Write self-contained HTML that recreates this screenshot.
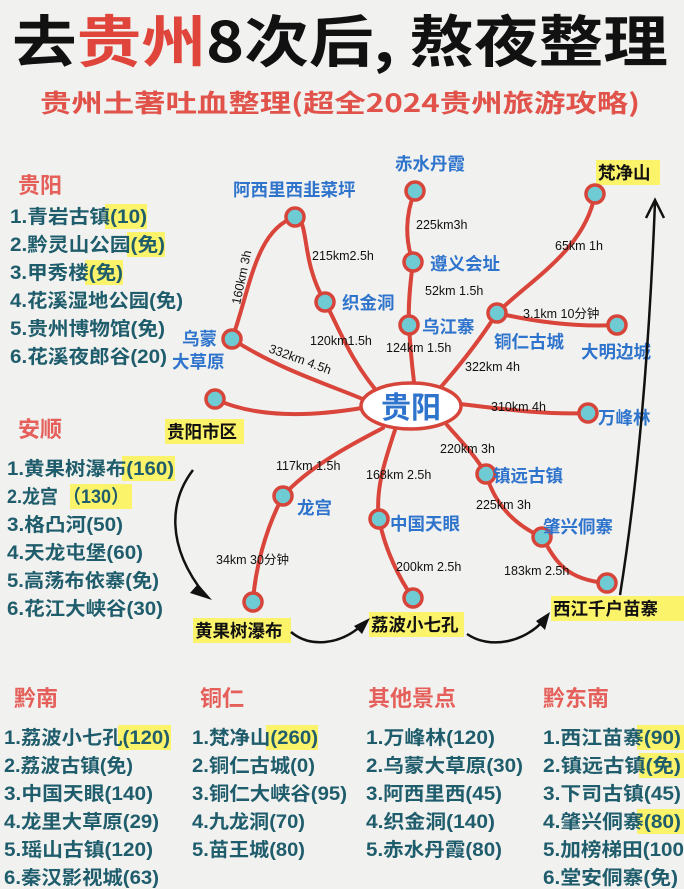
<!DOCTYPE html>
<html><head><meta charset="utf-8"><style>
html,body{margin:0;padding:0;background:#f1f1ef}
svg{display:block}
text{font-family:"Liberation Sans","Noto Sans CJK SC",sans-serif}
.t{font-family:"Noto Sans CJK SC",sans-serif;font-weight:700}
.li{font-family:"Noto Sans CJK SC",sans-serif;font-weight:700;font-size:19px;fill:#1f5d6c}
.hd{font-family:"Noto Sans CJK SC",sans-serif;font-weight:700;font-size:22px;fill:#e5605a}
.pl{font-family:"Noto Sans CJK SC",sans-serif;font-weight:700;font-size:17.5px;fill:#2f74cc}
.yl{font-family:"Noto Sans CJK SC",sans-serif;font-weight:700;font-size:17.5px;fill:#111}
.d{font-size:12.5px;fill:#111}
.r{fill:none;stroke:#d9453b;stroke-width:4;stroke-linecap:round}
.n{fill:#6fcbd3;stroke:#d6443a;stroke-width:3.5}
.a{fill:none;stroke:#111;stroke-width:2.5}
</style></head><body>
<svg width="684" height="889" viewBox="0 0 684 889" xmlns="http://www.w3.org/2000/svg">
<rect width="684" height="889" fill="#f1f1ef"/>
<text class="t" x="12" y="62" font-size="56" font-weight="900" textLength="656" lengthAdjust="spacingAndGlyphs" fill="#111">去<tspan fill="#e0453b">贵州</tspan>8次后, 熬夜整理</text>
<text class="t" x="40" y="112" font-size="25" fill="#e0524a" textLength="600" lengthAdjust="spacingAndGlyphs">贵州土著吐血整理(超全2024贵州旅游攻略)</text>

<g fill="#fbf36a">
<rect x="105" y="204" width="42" height="25"/>
<rect x="127" y="232" width="38" height="25"/>
<rect x="85" y="260" width="38" height="25"/>
<rect x="122" y="456" width="53" height="25"/>
<rect x="70" y="484" width="62" height="25"/>
<rect x="118" y="725" width="53" height="25"/>
<rect x="266" y="725" width="52" height="25"/>
<rect x="637" y="725" width="47" height="25"/>
<rect x="639" y="753" width="45" height="25"/>
<rect x="637" y="809" width="47" height="25"/>
<rect x="165" y="419" width="79" height="25"/>
<rect x="596" y="160" width="64" height="25"/>
<rect x="551" y="596" width="133" height="25"/>
<rect x="193" y="618" width="98" height="25"/>
<rect x="369" y="612" width="95" height="25"/>
</g>

<text class="hd" x="18" y="193">贵阳</text>
<g class="li">
<text x="10" y="223" textLength="137" lengthAdjust="spacingAndGlyphs">1.青岩古镇(10)</text>
<text x="10" y="251" textLength="155" lengthAdjust="spacingAndGlyphs">2.黔灵山公园(免)</text>
<text x="10" y="279" textLength="113" lengthAdjust="spacingAndGlyphs">3.甲秀楼(免)</text>
<text x="10" y="307" textLength="173" lengthAdjust="spacingAndGlyphs">4.花溪湿地公园(免)</text>
<text x="10" y="335" textLength="155" lengthAdjust="spacingAndGlyphs">5.贵州博物馆(免)</text>
<text x="10" y="363" textLength="157" lengthAdjust="spacingAndGlyphs">6.花溪夜郎谷(20)</text>
</g>
<text class="hd" x="18" y="437">安顺</text>
<g class="li">
<text x="7" y="475" textLength="167" lengthAdjust="spacingAndGlyphs">1.黄果树瀑布(160)</text>
<text x="7" y="503" textLength="122" lengthAdjust="spacingAndGlyphs">2.龙宫 （130）</text>
<text x="7" y="531" textLength="116" lengthAdjust="spacingAndGlyphs">3.格凸河(50)</text>
<text x="7" y="559" textLength="136" lengthAdjust="spacingAndGlyphs">4.天龙屯堡(60)</text>
<text x="7" y="587" textLength="152" lengthAdjust="spacingAndGlyphs">5.高荡布依寨(免)</text>
<text x="7" y="615" textLength="156" lengthAdjust="spacingAndGlyphs">6.花江大峡谷(30)</text>
</g>

<text class="hd" x="14" y="706">黔南</text>
<text class="hd" x="200" y="706">铜仁</text>
<text class="hd" x="368" y="706">其他景点</text>
<text class="hd" x="543" y="706">黔东南</text>
<g class="li">
<text x="4" y="744" textLength="166" lengthAdjust="spacingAndGlyphs">1.荔波小七孔(120)</text>
<text x="4" y="772" textLength="129" lengthAdjust="spacingAndGlyphs">2.荔波古镇(免)</text>
<text x="4" y="800" textLength="149" lengthAdjust="spacingAndGlyphs">3.中国天眼(140)</text>
<text x="4" y="828" textLength="155" lengthAdjust="spacingAndGlyphs">4.龙里大草原(29)</text>
<text x="4" y="856" textLength="149" lengthAdjust="spacingAndGlyphs">5.瑶山古镇(120)</text>
<text x="4" y="884" textLength="155" lengthAdjust="spacingAndGlyphs">6.秦汉影视城(63)</text>
<text x="192" y="744" textLength="126" lengthAdjust="spacingAndGlyphs">1.梵净山(260)</text>
<text x="192" y="772" textLength="123" lengthAdjust="spacingAndGlyphs">2.铜仁古城(0)</text>
<text x="192" y="800" textLength="155" lengthAdjust="spacingAndGlyphs">3.铜仁大峡谷(95)</text>
<text x="192" y="828" textLength="113" lengthAdjust="spacingAndGlyphs">4.九龙洞(70)</text>
<text x="192" y="856" textLength="113" lengthAdjust="spacingAndGlyphs">5.苗王城(80)</text>
<text x="366" y="744" textLength="129" lengthAdjust="spacingAndGlyphs">1.万峰林(120)</text>
<text x="366" y="772" textLength="157" lengthAdjust="spacingAndGlyphs">2.乌蒙大草原(30)</text>
<text x="366" y="800" textLength="136" lengthAdjust="spacingAndGlyphs">3.阿西里西(45)</text>
<text x="366" y="828" textLength="129" lengthAdjust="spacingAndGlyphs">4.织金洞(140)</text>
<text x="366" y="856" textLength="136" lengthAdjust="spacingAndGlyphs">5.赤水丹霞(80)</text>
<text x="543" y="744" textLength="138" lengthAdjust="spacingAndGlyphs">1.西江苗寨(90)</text>
<text x="543" y="772" textLength="138" lengthAdjust="spacingAndGlyphs">2.镇远古镇(免)</text>
<text x="543" y="800" textLength="138" lengthAdjust="spacingAndGlyphs">3.下司古镇(45)</text>
<text x="543" y="828" textLength="138" lengthAdjust="spacingAndGlyphs">4.肇兴侗寨(80)</text>
<text x="543" y="856" textLength="141" lengthAdjust="spacingAndGlyphs">5.加榜梯田(100</text>
<text x="543" y="884" textLength="135" lengthAdjust="spacingAndGlyphs">6.堂安侗寨(免)</text>
</g>

<path class="r" d="M232,339 C250,290 255,230 295,217 C310,220 300,260 325,302 C340,330 350,360 380,395"/>
<path class="r" d="M232,339 C280,370 330,385 365,400"/>
<path class="r" d="M215,399 C260,420 320,415 362,408"/>
<path class="r" d="M415,191 C405,215 405,240 413,262 C410,285 408,305 409,325 C410,345 412,365 414,382"/>
<path class="r" d="M595,194 C585,250 530,280 497,313 C480,340 460,365 440,388"/>
<path class="r" d="M497,313 C540,323 580,327 617,325"/>
<path class="r" d="M460,404 C510,410 550,415 588,413"/>
<path class="r" d="M447,425 C460,440 475,455 486,474 C495,505 515,525 542,537 C555,560 565,580 607,583"/>
<path class="r" d="M383,428 C360,440 310,465 283,496 C265,530 255,570 253,602"/>
<path class="r" d="M395,430 C385,460 375,490 379,519 C385,550 400,580 413,598"/>

<ellipse cx="411" cy="406" rx="50" ry="23" fill="#fff" stroke="#d6443a" stroke-width="3.5"/>
<text class="t" x="411" y="418" font-size="30" fill="#2f74cc" text-anchor="middle">贵阳</text>

<g class="n">
<circle cx="295" cy="217" r="9"/><circle cx="325" cy="302" r="9"/><circle cx="232" cy="339" r="9"/>
<circle cx="215" cy="399" r="9"/><circle cx="415" cy="191" r="9"/><circle cx="413" cy="262" r="9"/>
<circle cx="409" cy="325" r="9"/><circle cx="497" cy="313" r="9"/><circle cx="595" cy="194" r="9"/>
<circle cx="617" cy="325" r="9"/><circle cx="588" cy="413" r="9"/><circle cx="486" cy="474" r="9"/>
<circle cx="542" cy="537" r="9"/><circle cx="607" cy="583" r="9"/><circle cx="283" cy="496" r="9"/>
<circle cx="379" cy="519" r="9"/><circle cx="253" cy="602" r="9"/><circle cx="413" cy="598" r="9"/>
</g>

<g class="pl">
<text x="233" y="196">阿西里西韭菜坪</text>
<text x="342" y="309">织金洞</text>
<text x="182" y="345">乌蒙</text>
<text x="172" y="368">大草原</text>
<text x="395" y="170">赤水丹霞</text>
<text x="430" y="270">遵义会址</text>
<text x="422" y="333">乌江寨</text>
<text x="494" y="348">铜仁古城</text>
<text x="581" y="358">大明边城</text>
<text x="598" y="424">万峰林</text>
<text x="493" y="482">镇远古镇</text>
<text x="543" y="533">肇兴侗寨</text>
<text x="297" y="514">龙宫</text>
<text x="390" y="530">中国天眼</text>
</g>
<g class="yl">
<text x="167" y="438">贵阳市区</text>
<text x="598" y="179">梵净山</text>
<text x="553" y="615">西江千户苗寨</text>
<text x="195" y="637">黄果树瀑布</text>
<text x="371" y="631">荔波小七孔</text>
</g>

<g class="d">
<text x="0" y="0" transform="translate(240,305) rotate(-78)">160km 3h</text>
<text x="312" y="260">215km2.5h</text>
<text x="310" y="345">120km1.5h</text>
<text x="0" y="0" transform="translate(268,352) rotate(20)">332km 4.5h</text>
<text x="416" y="229">225km3h</text>
<text x="425" y="295">52km 1.5h</text>
<text x="386" y="352">124km 1.5h</text>
<text x="555" y="250">65km 1h</text>
<text x="523" y="318">3.1km 10分钟</text>
<text x="465" y="371">322km 4h</text>
<text x="491" y="411">310km 4h</text>
<text x="440" y="453">220km 3h</text>
<text x="276" y="470">117km 1.5h</text>
<text x="366" y="479">168km 2.5h</text>
<text x="476" y="509">225km 3h</text>
<text x="216" y="564">34km  30分钟</text>
<text x="396" y="571">200km 2.5h</text>
<text x="504" y="575">183km 2.5h</text>
</g>

<path class="a" d="M193,470 C170,500 165,545 205,595"/>
<path d="M198,584 L212,600 L190,593 Z" fill="#111"/>
<path class="a" d="M291,632 C310,648 340,645 362,625"/>
<path d="M354,626 L370,618 L362,634 Z" fill="#111"/>
<path class="a" d="M467,634 C490,650 525,642 544,620"/>
<path d="M536,621 L550,612 L545,630 Z" fill="#111"/>
<path class="a" d="M620,595 C640,470 650,330 655,202"/>
<path class="a" d="M646,218 L655,200 L664,218"/>
</svg>
</body></html>
